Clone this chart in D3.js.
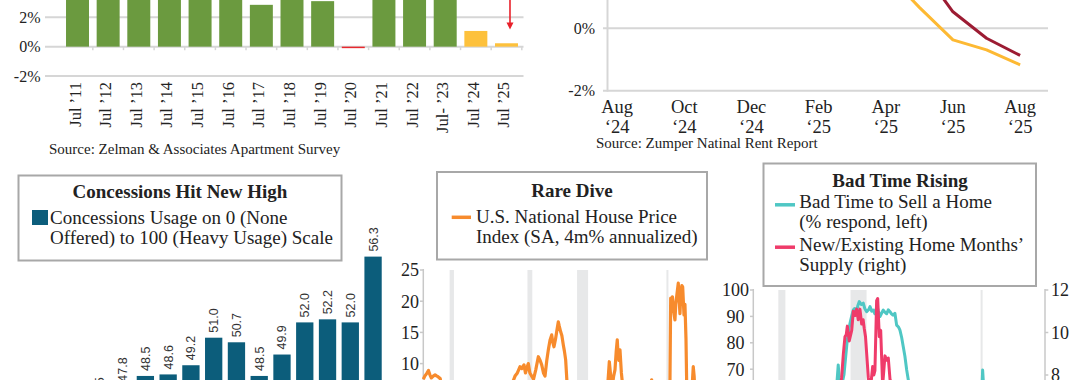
<!DOCTYPE html>
<html><head><meta charset="utf-8">
<script src="https://cdn.jsdelivr.net/npm/d3@7"></script>
<style>
html,body{margin:0;padding:0;background:#fff;}
svg{display:block;}
text{font-family:"Liberation Serif",serif;fill:#222;}
</style></head><body>
<svg id="c" width="1080" height="380"></svg>
<script>
// ---------- Panel 1: apartment rent growth (Zelman) ----------
const aptCategories = ["Jul ’11","Jul ’12","Jul ’13","Jul ’14","Jul ’15","Jul ’16","Jul ’17","Jul ’18","Jul ’19","Jul ’20","Jul ’21","Jul ’22","Jul- ’23","Jul ’24","Jul ’25"];
const aptValues = [5.0, 4.6, 4.2, 4.5, 5.0, 4.0, 2.85, 3.6, 3.1, -0.06, 8.0, 6.5, 3.5, 1.07, 0.23];
const aptTicks = [-2, 0, 2];
const aptSource = "Source: Zelman & Associates Apartment Survey";

// ---------- Panel 2: Zumper national rent (YoY %) ----------
const zumperMonths = ["Aug ’24","Sep ’24","Oct ’24","Nov ’24","Dec ’24","Jan ’25","Feb ’25","Mar ’25","Apr ’25","May ’25","Jun ’25","Jul ’25","Aug ’25"];
const zumper1BR = [3.0, 3.2, 3.4, 3.6, 3.5, 3.3, 3.4, 3.5, 3.2, 2.0, 0.53, -0.32, -0.87];
const zumper2BR = [2.6, 2.8, 3.0, 3.1, 3.0, 2.9, 3.0, 2.8, 1.8, 0.67, -0.37, -0.69, -1.17];
const zumperTickMonths = [["Aug","‘24"],["Oct","‘24"],["Dec","‘24"],["Feb","‘25"],["Apr","‘25"],["Jun","‘25"],["Aug","‘25"]];
const zumperYTicks = [-2, 0];
const zumperSource = "Source: Zumper Natinal Rent Report";

// ---------- Panel 3: concessions ----------
const concessionPeriods = ["Q3 ’22","Q4 ’22","Q1 ’23","Q2 ’23","Q3 ’23","Q4 ’23","Q1 ’24","Q2 ’24","Q3 ’24","Q4 ’24","Q1 ’25","Q2 ’25","Q3 ’25"];
const concessionValues = [46.5, 47.8, 48.5, 48.6, 49.2, 51.0, 50.7, 48.5, 49.9, 52.0, 52.2, 52.0, 56.3];
const concessionTitle = "Concessions Hit New High";
const concessionLegend = ["Concessions Usage on 0 (None", "Offered) to 100 (Heavy Usage) Scale"];

// ---------- Panel 4: house price index ----------
const hpiYears = [1987.0,1987.2,1987.45,1987.7,1987.9,1988.1,1988.35,1988.6,1988.85,1989.0,1989.3,1989.6,1990.0,1990.5,1991.0,1991.5,1992.0,1992.5,1993.0,1993.5,1994.0,1994.5,1995.0,1995.5,1996.0,1996.5,1997.0,1997.5,1998.0,1998.5,1999.0,1999.48,1999.8,2000.16,2000.4,2000.7,2000.9,2001.07,2001.29,2001.5,2001.75,2002.0,2002.3,2002.65,2002.9,2003.11,2003.35,2003.56,2003.8,2004.01,2004.25,2004.47,2004.6,2004.78,2005.0,2005.2,2005.37,2005.5,2005.69,2005.85,2006.05,2006.2,2006.37,2006.55,2006.8,2007.2,2007.6,2008.0,2008.5,2009.0,2009.5,2009.8,2010.3,2010.8,2011.3,2011.8,2012.0,2012.31,2012.5,2012.67,2012.9,2013.08,2013.25,2013.39,2013.5,2013.62,2013.76,2013.95,2014.17,2014.6,2015.0,2015.5,2016.0,2016.5,2017.0,2017.5,2017.8,2018.07,2018.4,2018.9,2019.4,2019.9,2020.29,2020.55,2020.66,2020.8,2020.9,2021.05,2021.24,2021.35,2021.5,2021.69,2021.8,2021.92,2022.05,2022.18,2022.29,2022.47,2022.6,2022.74,2022.9,2023.15,2023.35,2023.56,2023.73,2023.85,2023.97,2024.3,2024.65,2025.0,2025.3,2025.5];
const hpiValues = [7.5,8.0,8.4,8.9,8.2,7.7,8.0,8.2,8.0,7.9,7.6,5.5,3.0,0.5,-1.5,0.5,1.5,0.0,1.5,2.5,3.0,2.0,1.5,2.5,2.5,3.0,3.5,4.5,5.5,6.0,6.5,8.0,8.5,9.5,9.2,9.8,8.5,9.2,10.0,8.5,8.0,7.5,9.0,11.1,10.5,9.8,8.5,8.0,10.5,12.2,13.8,14.6,13.5,12.7,14.0,15.5,16.7,16.0,15.1,14.5,13.0,12.0,10.6,7.0,3.0,0.0,-3.0,-10.0,-15.0,-12.0,-2.0,3.0,0.0,-5.0,-4.0,-2.0,5.0,10.3,8.0,6.0,8.0,9.0,12.0,13.8,11.5,10.5,12.2,8.5,6.0,4.5,4.5,5.0,5.5,5.0,6.0,6.5,6.5,7.4,6.0,4.0,3.0,3.5,4.0,5.5,20.5,19.5,20.7,18.5,17.0,19.5,21.0,22.9,20.5,18.0,21.5,22.5,22.3,17.8,19.5,14.0,2.0,-5.0,0.0,6.0,9.5,8.0,5.0,4.5,3.0,2.0,-1.0,-2.0];
const hpiYTicks = [10, 15, 20, 25];
const hpiTitle = "Rare Dive";
const hpiLegend = ["U.S. National House Price", "Index (SA, 4m% annualized)"];

// ---------- Panel 5: bad time to sell / months' supply ----------
const badTimeYears = [1998.83,1999.5,2000.5,2001.5,2002.5,2003.5,2004.5,2005.5,2006.0,2006.4,2006.56,2006.77,2006.93,2007.1,2007.31,2007.45,2007.59,2007.72,2007.87,2008.02,2008.18,2008.3,2008.43,2008.6,2008.74,2008.94,2009.11,2009.25,2009.43,2009.6,2009.74,2009.9,2010.04,2010.2,2010.39,2010.52,2010.67,2010.8,2010.98,2011.15,2011.3,2011.45,2011.61,2011.75,2011.89,2012.07,2012.23,2012.4,2012.54,2012.7,2012.85,2013.0,2013.17,2013.48,2013.95,2014.5,2015.5,2016.5,2017.5,2018.5,2019.5,2020.0,2020.11,2020.27,2020.44,2020.7,2021.5,2022.5,2023.5,2024.5,2025.5,2025.9];
const badTimeValues = [30,28,30,35,32,30,28,35,45,55,60,71.6,62,64,68,74,80,84,87.4,90,92.4,93,91,94,95.6,94.5,95,93,91.8,92.5,93.7,92,92.4,91,94,92,89.9,91,92.4,91.5,91,92.5,91.8,91,90.5,91.2,86.7,86,84.8,82,78.5,75,69.7,62,55,50,45,40,35,38,40,45,52,69.7,58,45,35,50,58,60,62,60];
const supplyYears = [1998.83,2000.0,2002.0,2004.0,2005.5,2006.2,2006.75,2006.95,2007.09,2007.25,2007.4,2007.52,2007.62,2007.8,2008.03,2008.18,2008.33,2008.49,2008.64,2008.8,2008.96,2009.1,2009.2,2009.32,2009.43,2009.58,2009.74,2009.87,2009.99,2010.1,2010.2,2010.36,2010.46,2010.61,2010.74,2010.83,2010.92,2011.03,2011.14,2011.3,2011.45,2011.61,2011.89,2012.5,2013.5,2015.0,2017.0,2019.0,2020.3,2020.8,2022.0,2023.5,2025.5];
const supplyValues = [5.0,5.2,5.5,5.0,5.5,6.5,7.0,7.4,7.9,9.0,9.8,9.9,10.3,9.6,10.1,11.0,10.8,11.1,10.6,11.1,10.4,10.6,10.2,9.8,9.0,7.9,7.2,7.8,8.4,8.0,8.2,11.5,11.6,9.8,10.1,8.8,7.5,8.2,8.9,8.7,8.8,7.8,7.0,6.0,5.0,4.8,4.3,4.5,5.5,3.8,3.5,4.8,5.5];
const badTimeLeftTicks = [70, 80, 90, 100];
const supplyRightTicks = [8, 10, 12];
const badTimeTitle = "Bad Time Rising";
const badTimeLegend = [["Bad Time to Sell a Home", "(% respond, left)"], ["New/Existing Home Months’", "Supply (right)"]];

// Recessions (NBER)
const recessionStarts = [1990.58, 2001.17, 2007.92, 2020.08];
const recessionEnds   = [1991.17, 2001.83, 2009.42, 2020.25];

// ================= drawing =================
const svg = d3.select("#c");
const GRID = "#d6d6d6";
const AXIS = "#c8c8c8";
const BOX = "#a8a8a8";
const SHADE = "#e7e8e9";

// ---- Panel 1 ----
(function(){
  const g = svg.append("g");
  const x = d3.scaleBand().domain(aptCategories).range([50.7, 533.3]).paddingInner(0.25).paddingOuter(0.5);
  const y = d3.scaleLinear().domain([-2, 2]).range([76, 17.3]);
  aptTicks.forEach(t => {
    g.append("line").attr("x1", 45).attr("x2", 523.5).attr("y1", y(t)).attr("y2", y(t))
      .attr("stroke", GRID).attr("stroke-width", 2);
    g.append("text").attr("x", 40.5).attr("y", y(t)).attr("dy", "0.35em").attr("text-anchor", "end")
      .attr("font-size", 16).text(t + "%");
  });
  g.selectAll("rect.bar").data(aptCategories).enter().append("rect")
    .attr("x", d => x(d)).attr("width", x.bandwidth())
    .attr("y", (d,i) => Math.min(y(aptValues[i]), y(0)))
    .attr("height", (d,i) => Math.max(Math.abs(y(aptValues[i]) - y(0)), 1.5))
    .attr("fill", (d,i) => aptValues[i] < 0 ? "#e8282e" : (i >= 13 ? "#fdc13c" : "#6b9a3f"));
  const step = x.step();
  aptCategories.forEach((d,i) => {
    const bx = x(d) + x.bandwidth()/2 + step/2;
    g.append("line").attr("x1", bx).attr("x2", bx).attr("y1", y(0)).attr("y2", y(0)+3.5)
      .attr("stroke", GRID).attr("stroke-width", 1.5);
  });
  g.selectAll("text.cat").data(aptCategories).enter().append("text")
    .attr("transform", d => `translate(${x(d)+x.bandwidth()/2+3},82) rotate(-90)`)
    .attr("text-anchor", "end").attr("font-size", 16.5).text(d => d);
  const ax = x(aptCategories[14]) + x.bandwidth()/2 + 3.5;
  g.append("line").attr("x1", ax).attr("x2", ax).attr("y1", -2).attr("y2", 24)
    .attr("stroke", "#e8202a").attr("stroke-width", 1.6);
  g.append("path").attr("d", `M${ax-3.5},22.5 L${ax+3.5},22.5 L${ax},29.5 Z`).attr("fill", "#e8202a");
  g.append("text").attr("x", 49).attr("y", 154).attr("font-size", 15).text(aptSource);
})();

// ---- Panel 2 ----
(function(){
  const g = svg.append("g");
  const x = d3.scaleLinear().domain([-0.3, 12.83]).range([607, 1048]);
  const y = d3.scaleLinear().domain([-2, 0]).range([90.7, 28.3]);
  zumperYTicks.forEach(t => {
    g.append("line").attr("x1", 603).attr("x2", 1048).attr("y1", y(t)).attr("y2", y(t))
      .attr("stroke", GRID).attr("stroke-width", 2);
    g.append("text").attr("x", 595).attr("y", y(t)).attr("dy", "0.35em").attr("text-anchor", "end")
      .attr("font-size", 16).text(t + "%");
  });
  g.append("line").attr("x1", 607.5).attr("x2", 607.5).attr("y1", 0).attr("y2", 91.7)
    .attr("stroke", GRID).attr("stroke-width", 2);
  zumperTickMonths.forEach((m,i) => {
    g.append("text").attr("text-anchor", "middle").attr("font-size", 18.5)
      .attr("x", x(i*2)).attr("y", 113).text(m[0]);
    g.append("text").attr("text-anchor", "middle").attr("font-size", 18.5)
      .attr("x", x(i*2)).attr("y", 132.5).text(m[1]);
  });
  const line = d3.line().x((d,i) => x(i)).y(d => y(d));
  g.append("path").datum(zumper2BR).attr("d", line).attr("fill", "none")
    .attr("stroke", "#fdb933").attr("stroke-width", 3).attr("stroke-linejoin", "round");
  g.append("path").datum(zumper1BR).attr("d", line).attr("fill", "none")
    .attr("stroke", "#9c1c33").attr("stroke-width", 3).attr("stroke-linejoin", "round");
  g.append("text").attr("x", 596).attr("y", 148).attr("font-size", 15).text(zumperSource);
})();

// ---- Panel 3 ----
(function(){
  const g = svg.append("g");
  const x = d3.scaleBand().domain(concessionPeriods).range([79.8, 393.1]).paddingInner(0.24).paddingOuter(0.5);
  const y = d3.scaleLinear().domain([40, 60]).range([506, 200]);
  g.selectAll("rect").data(concessionPeriods).enter().append("rect")
    .attr("x", d => x(d)).attr("width", x.bandwidth())
    .attr("y", (d,i) => y(concessionValues[i])).attr("height", (d,i) => 420 - y(concessionValues[i]))
    .attr("fill", "#0c5d7b");
  g.selectAll("text.v").data(concessionPeriods).enter().append("text")
    .attr("transform", (d,i) => `translate(${x(d)+x.bandwidth()/2+4.5},${y(concessionValues[i])-5}) rotate(-90)`)
    .attr("font-size", 12.5)
    .style("font-family", "'Liberation Sans', Arial, sans-serif").style("fill", "#333")
    .text((d,i) => concessionValues[i].toFixed(1));
  g.append("rect").attr("x", 18.5).attr("y", 175.5).attr("width", 323).attr("height", 85)
    .attr("fill", "#fff").attr("stroke", BOX).attr("stroke-width", 2);
  g.append("text").attr("x", 180).attr("y", 198).attr("text-anchor", "middle")
    .attr("font-size", 19).attr("font-weight", "bold").text(concessionTitle);
  g.append("rect").attr("x", 32).attr("y", 210).attr("width", 16).attr("height", 15).attr("fill", "#0c5d7b");
  concessionLegend.forEach((s,i) => g.append("text").attr("x", 50).attr("y", 224 + i*19.5).attr("font-size", 19).text(s));
})();

// ---- Panel 4 ----
(function(){
  const g = svg.append("g");
  const x = d3.scaleLinear().domain([1987, 2025.6]).range([423.3, 707]);
  const y = d3.scaleLinear().domain([0, 25]).range([426, 270]);
  recessionStarts.forEach((s,i) => {
    g.append("rect").attr("x", x(s)).attr("width", Math.max(x(recessionEnds[i]) - x(s), 2))
      .attr("y", 270).attr("height", 120).attr("fill", SHADE);
  });
  g.append("line").attr("x1", 423.3).attr("x2", 423.3).attr("y1", 269).attr("y2", 390)
    .attr("stroke", AXIS).attr("stroke-width", 1.5);
  hpiYTicks.forEach(t => {
    g.append("line").attr("x1", 420).attr("x2", 423.3).attr("y1", y(t)).attr("y2", y(t)).attr("stroke", AXIS).attr("stroke-width", 1.5);
    g.append("text").attr("x", 419).attr("y", y(t)).attr("dy", "0.35em").attr("text-anchor", "end")
      .attr("font-size", 18).text(t);
  });
  const line = d3.line().x((d,i) => x(hpiYears[i])).y(d => y(d));
  g.append("path").datum(hpiValues).attr("d", line).attr("fill", "none")
    .attr("stroke", "#f78b2d").attr("stroke-width", 3.2).attr("stroke-linejoin", "round");
  g.append("rect").attr("x", 437).attr("y", 172).attr("width", 270).attr("height", 87.5)
    .attr("fill", "#fff").attr("stroke", BOX).attr("stroke-width", 2);
  g.append("text").attr("x", 572).attr("y", 197).attr("text-anchor", "middle")
    .attr("font-size", 19).attr("font-weight", "bold").text(hpiTitle);
  g.append("line").attr("x1", 451.7).attr("x2", 471).attr("y1", 217.3).attr("y2", 217.3)
    .attr("stroke", "#f78b2d").attr("stroke-width", 3.5);
  hpiLegend.forEach((s,i) => g.append("text").attr("x", 476).attr("y", 223.3 + i*20).attr("font-size", 19).text(s));
})();

// ---- Panel 5 ----
(function(){
  const g = svg.append("g");
  const x = d3.scaleLinear().domain([1998.83, 2026.1]).range([753.3, 1045]);
  const yL = d3.scaleLinear().domain([0, 100]).range([554, 290]);
  const yR = d3.scaleLinear().domain([0, 12]).range([545, 290]);
  recessionStarts.forEach((s,i) => {
    if (s < 1998.83) return;
    g.append("rect").attr("x", x(s)).attr("width", Math.max(x(recessionEnds[i]) - x(s), 2))
      .attr("y", 290).attr("height", 100).attr("fill", SHADE);
  });
  g.append("line").attr("x1", 753.3).attr("x2", 753.3).attr("y1", 289).attr("y2", 390).attr("stroke", AXIS).attr("stroke-width", 1.5);
  g.append("line").attr("x1", 1045).attr("x2", 1045).attr("y1", 289).attr("y2", 390).attr("stroke", AXIS).attr("stroke-width", 1.5);
  badTimeLeftTicks.forEach(t => {
    g.append("line").attr("x1", 750).attr("x2", 753.3).attr("y1", yL(t)).attr("y2", yL(t)).attr("stroke", AXIS).attr("stroke-width", 1.5);
    g.append("text").attr("x", 735.5).attr("y", yL(t)).attr("dy", "0.35em").attr("text-anchor", "middle")
      .attr("font-size", 18).text(t);
  });
  supplyRightTicks.forEach(t => {
    g.append("line").attr("x1", 1045).attr("x2", 1048.3).attr("y1", yR(t)).attr("y2", yR(t)).attr("stroke", AXIS).attr("stroke-width", 1.5);
    g.append("text").attr("x", 1051).attr("y", yR(t)).attr("dy", "0.35em").attr("text-anchor", "start")
      .attr("font-size", 18).text(t);
  });
  const lineL = d3.line().x((d,i) => x(badTimeYears[i])).y(d => yL(d));
  const lineR = d3.line().x((d,i) => x(supplyYears[i])).y(d => yR(d));
  g.append("path").datum(badTimeValues).attr("d", lineL).attr("fill", "none")
    .attr("stroke", "#4fc7c4").attr("stroke-width", 3).attr("stroke-linejoin", "round");
  g.append("path").datum(supplyValues).attr("d", lineR).attr("fill", "none")
    .attr("stroke", "#ef3b6a").attr("stroke-width", 3).attr("stroke-linejoin", "round");
  g.append("rect").attr("x", 763.5).attr("y", 163.5).attr("width", 272.5).attr("height", 122.5)
    .attr("fill", "#fff").attr("stroke", BOX).attr("stroke-width", 2);
  g.append("text").attr("x", 900).attr("y", 186.7).attr("text-anchor", "middle")
    .attr("font-size", 19).attr("font-weight", "bold").text(badTimeTitle);
  const cols = ["#4fc7c4", "#ef3b6a"];
  badTimeLegend.forEach((lines, k) => {
    const base = 208.3 + k*42.4;
    g.append("line").attr("x1", 775).attr("x2", 795).attr("y1", base-3.5).attr("y2", base-3.5)
      .attr("stroke", cols[k]).attr("stroke-width", 3.5);
    lines.forEach((s,i) => g.append("text").attr("x", 799.3).attr("y", base + i*20).attr("font-size", 19).text(s));
  });
})();
</script>
</body></html>
